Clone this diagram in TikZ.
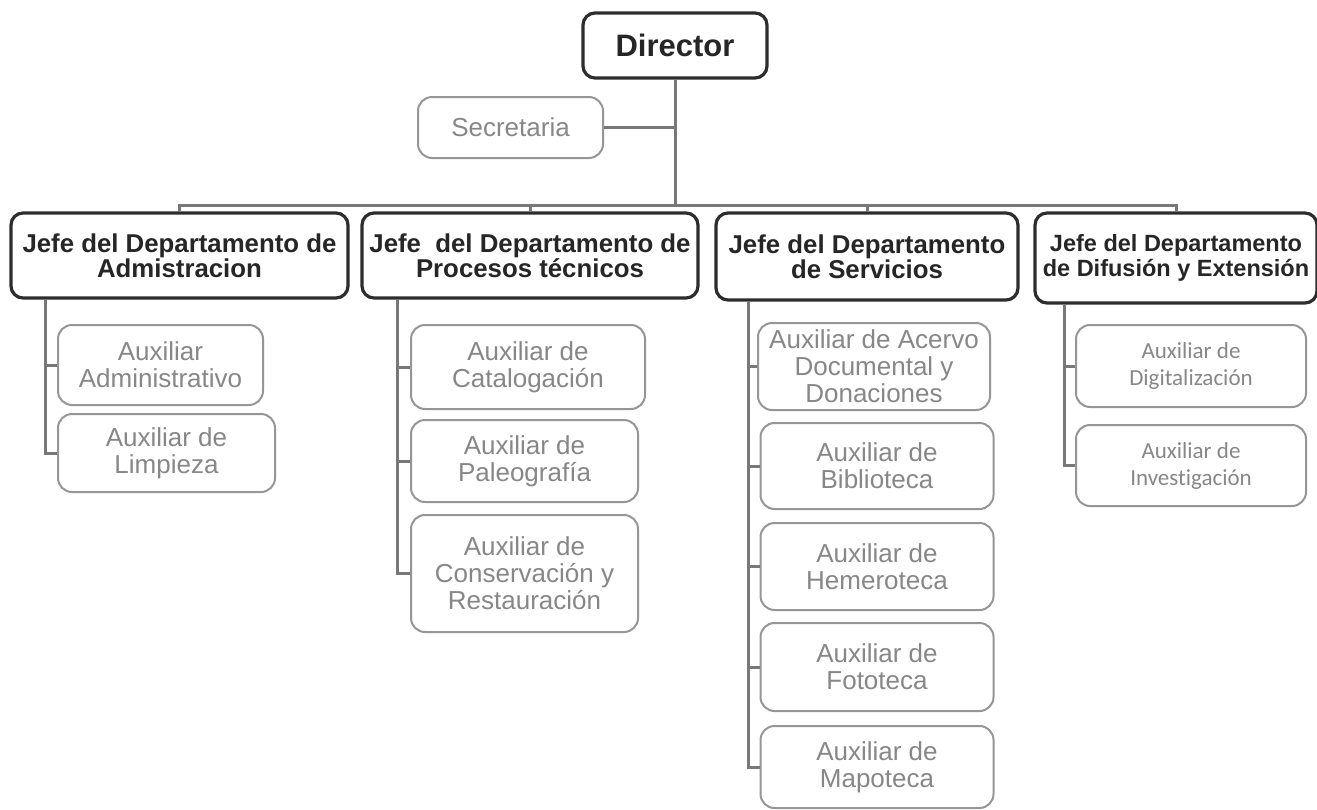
\documentclass[tikz,border=0pt]{standalone}
\usepackage{fontspec}
\setmainfont{Liberation Sans}
\newfontfamily\calibrifont[Ligatures=NoCommon]{Carlito}
\usepackage{xcolor}
\usetikzlibrary{positioning}
\definecolor{linegray}{RGB}{120,120,120}
\definecolor{boxdark}{RGB}{45,45,45}
\definecolor{auxgray}{RGB}{150,150,150}
\definecolor{auxtext}{RGB}{135,135,135}

\begin{document}
\begin{tikzpicture}[x=1pt,y=-1pt,
    link/.style={draw=linegray,line width=3pt},
    dirbox/.style={%
      draw=boxdark,line width=3.2pt,rounded corners=12pt,minimum width=184pt,
      minimum height=65pt,inner sep=0pt,text=black!85,
      font=\fontsize{31}{31}\selectfont\bfseries},
    jefe/.style={%
      draw=boxdark,line width=3.2pt,rounded corners=12pt,minimum height=85pt,
      inner sep=0pt,align=center,text=black!85,
      font=\fontsize{25.8}{25}\selectfont\bfseries},
    auxbox/.style={%
      draw=auxgray,line width=2pt,rounded corners=14pt,inner sep=0pt,
      align=center,text=auxtext,font=\fontsize{26}{27}\selectfont},
    auxdif/.style={auxbox,font=\calibrifont\fontsize{23}{27}\selectfont}
  ]
    \useasboundingbox[fill=white] (0,0) rectangle (1317,809);

    \node[dirbox] (dir) at (675,45.5) {Director};
    \node[auxbox, minimum width=185pt, minimum height=61pt] (sec) at (510.5,127.5) {Secretaria};

    \node[jefe, minimum width=337pt] (adm)  at (179.5,255.5) {Jefe del Departamento de\\Admistracion};
    \node[jefe, minimum width=336pt] (proc) at (530,255.5)   {Jefe~~del Departamento de\\Procesos técnicos};
    \node[jefe, minimum width=302pt, minimum height=87pt] (serv) at (867,256.5) {Jefe del Departamento\\de Servicios};
    \node[jefe, minimum width=282pt, minimum height=90pt,
          font=\fontsize{23.5}{25}\selectfont\bfseries] (dif) at (1176,258) {Jefe del Departamento\\de Difusión y Extensión};

    \node[auxbox, minimum width=205pt, minimum height=80pt]  (aadm) at (160.5,365) {Auxiliar\\Administrativo};
    \node[auxbox, minimum width=217pt, minimum height=78pt]  (alim) at (166.5,453) {Auxiliar de\\Limpieza};

    \node[auxbox, minimum width=234pt, minimum height=84pt]  (acat) at (528,367)    {Auxiliar de\\Catalogación};
    \node[auxbox, minimum width=227pt, minimum height=82pt]  (apal) at (524.5,461)  {Auxiliar de\\Paleografía};
    \node[auxbox, minimum width=227pt, minimum height=117pt] (acon) at (524.5,573.5) {Auxiliar de\\Conservación y\\Restauración};

    \node[auxbox, minimum width=232pt, minimum height=87pt]  (aace) at (874,366.5) {Auxiliar de Acervo\\Documental y\\Donaciones};
    \node[auxbox, minimum width=233pt, minimum height=86pt]  (abib) at (877,466)   {Auxiliar de\\Biblioteca};
    \node[auxbox, minimum width=233pt, minimum height=87pt]  (ahem) at (877,566.5) {Auxiliar de\\Hemeroteca};
    \node[auxbox, minimum width=233pt, minimum height=88pt]  (afot) at (877,667)   {Auxiliar de\\Fototeca};
    \node[auxbox, minimum width=233pt, minimum height=82pt]  (amap) at (877,767)   {Auxiliar de\\Mapoteca};

    \node[auxdif, minimum width=230pt, minimum height=82pt]  (adig) at (1191,366)   {Auxiliar de\\Digitalización};
    \node[auxdif, minimum width=230pt, minimum height=81pt]  (ainv) at (1191,465.5) {Auxiliar de\\Investigación};

    \coordinate (bus)   at (0,205);
    \coordinate (sadm)  at (45,0);
    \coordinate (sproc) at (397,0);
    \coordinate (sserv) at (748,0);
    \coordinate (sdif)  at (1064,0);

    \draw[link] (dir.south) -- (dir.south |- bus)
                (sec.east) -- (sec.east -| dir.south);
    \draw[link] (adm.north) -- (adm.north |- bus) -- (dif.north |- bus) -- (dif.north)
                (proc.north) -- (proc.north |- bus)
                (serv.north) -- (serv.north |- bus);

    \draw[link] (sadm |- adm.south) -- (sadm |- alim.west) -- (alim.west)
                (sadm |- aadm.west) -- (aadm.west);
    \draw[link] (sproc |- proc.south) -- (sproc |- acon.west) -- (acon.west)
                (sproc |- acat.west) -- (acat.west)
                (sproc |- apal.west) -- (apal.west);
    \draw[link] (sserv |- serv.south) -- (sserv |- amap.west) -- (amap.west)
                (sserv |- aace.west) -- (aace.west)
                (sserv |- abib.west) -- (abib.west)
                (sserv |- ahem.west) -- (ahem.west)
                (sserv |- afot.west) -- (afot.west);
    \draw[link] (sdif |- dif.south) -- (sdif |- ainv.west) -- (ainv.west)
                (sdif |- adig.west) -- (adig.west);
  \end{tikzpicture}
\end{document}
